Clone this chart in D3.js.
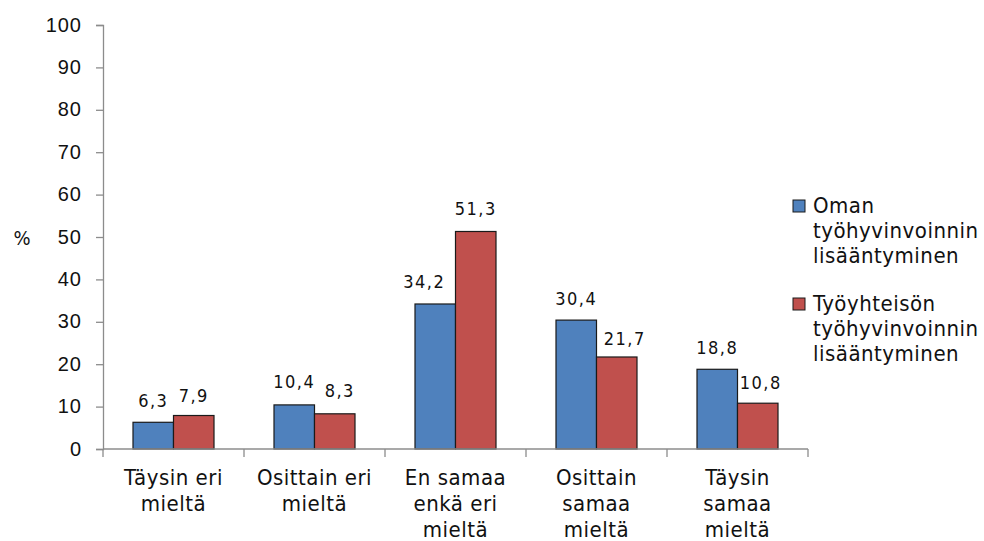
<!DOCTYPE html>
<html>
<head>
<meta charset="utf-8">
<script src="https://cdn.jsdelivr.net/npm/d3@7"></script>
<style>
  html, body { margin: 0; padding: 0; background: #fff; }
  svg { display: block; font-family: "DejaVu Sans Condensed", "DejaVu Sans", sans-serif; font-stretch: condensed; }
</style>
</head>
<body>
<svg id="chart" width="984" height="541"></svg>
<script>
// Survey answers, percent of respondents
const categories = [
  ["Täysin eri", "mieltä"],
  ["Osittain eri", "mieltä"],
  ["En samaa", "enkä eri", "mieltä"],
  ["Osittain", "samaa", "mieltä"],
  ["Täysin", "samaa", "mieltä"]
];
const seriesNames = [
  ["Oman", "työhyvinvoinnin", "lisääntyminen"],
  ["Työyhteisön", "työhyvinvoinnin", "lisääntyminen"]
];
const omanValues = [6.3, 10.4, 34.2, 30.4, 18.8];
const tyoyhteisonValues = [7.9, 8.3, 51.3, 21.7, 10.8];
const yTicks = [0, 10, 20, 30, 40, 50, 60, 70, 80, 90, 100];
const colors = ["#4F81BD", "#C0504D"];

const svg = d3.select("#chart");
const catKeys = categories.map(c => c.join(" "));
const values = [omanValues, tyoyhteisonValues];

// Small nudges that keep neighbouring value labels apart
const labelDx = [[0, 0, -11, 0, 0], [0, 5, 0, 8, 3]];
const labelGap = [[15, 17, 15.5, 15.5, 15.5], [14, 17, 16.5, 11.5, 14]];

const x = d3.scaleBand().domain(catKeys).range([103, 808]).padding(0);
const x1 = d3.scaleBand().domain([0, 1]).range([30, x.bandwidth() - 30]).padding(0);
const y = d3.scaleLinear().domain([0, 100]).range([449, 25]);

const axisColor = "#8c8c8c";
const textColor = "#111";
const fmt = v => d3.format(".1f")(v).replace(".", ",");

// Y axis
const yAxis = svg.append("g")
  .attr("transform", "translate(103,0)")
  .call(d3.axisLeft(y).tickValues(yTicks).tickSize(7).tickPadding(14));
yAxis.select(".domain").attr("stroke", axisColor).attr("stroke-width", 1.3);
yAxis.selectAll(".tick line").attr("stroke", axisColor).attr("stroke-width", 1.3);
yAxis.selectAll(".tick text")
  .attr("font-size", 20).attr("fill", textColor)
  .attr("font-family", null)
  .attr("dy", "0.3em")
  .style("letter-spacing", "1px");

// Y axis title
svg.append("text").attr("x", 22).attr("y", 245)
  .attr("text-anchor", "middle").attr("font-size", 20)
  .attr("fill", textColor).text("%");

// Bars
const groups = svg.append("g").selectAll("g")
  .data(catKeys).join("g")
  .attr("transform", d => `translate(${x(d)},0)`);

groups.each(function(cat, ci) {
  const g = d3.select(this);
  [0, 1].forEach(si => {
    const v = values[si][ci];
    g.append("rect")
      .attr("x", x1(si))
      .attr("y", y(v))
      .attr("width", x1.bandwidth())
      .attr("height", y(0) - y(v))
      .attr("fill", colors[si])
      .attr("stroke", "#1a1a1a")
      .attr("stroke-width", 1.2);
    g.append("text")
      .attr("x", x1(si) + x1.bandwidth() / 2 + labelDx[si][ci])
      .attr("y", y(v) - labelGap[si][ci])
      .attr("text-anchor", "middle")
      .attr("font-size", 18)
      .attr("fill", textColor)
      .style("letter-spacing", "1.5px")
      .text(fmt(v));
  });
});

// X axis (baseline and category separators)
const xAxis = svg.append("g");
xAxis.append("line")
  .attr("x1", 103).attr("x2", 808).attr("y1", y(0)).attr("y2", y(0))
  .attr("stroke", axisColor).attr("stroke-width", 1.3);
const bounds = catKeys.map(k => x(k)).concat([x.range()[1]]);
xAxis.selectAll("line.sep").data(bounds).join("line")
  .attr("class", "sep")
  .attr("x1", d => d).attr("x2", d => d)
  .attr("y1", y(0)).attr("y2", y(0) + 8)
  .attr("stroke", axisColor).attr("stroke-width", 1.3);

// Category labels
const catLabels = svg.append("g").selectAll("text")
  .data(categories).join("text")
  .attr("text-anchor", "middle")
  .attr("font-size", 22)
  .attr("fill", textColor)
  .style("letter-spacing", "0.5px")
  .attr("transform", (d, i) => `translate(${x(catKeys[i]) + x.bandwidth() / 2},485)`);
catLabels.selectAll("tspan").data(d => d).join("tspan")
  .attr("x", 0).attr("y", (d, i) => i * 26)
  .text(d => d);

// Legend
const legend = svg.append("g").attr("transform", "translate(793,0)");
seriesNames.forEach((lines, si) => {
  const top = 200 + si * 98;
  legend.append("rect")
    .attr("x", 0).attr("y", top).attr("width", 12).attr("height", 12)
    .attr("fill", colors[si]).attr("stroke", "#1a1a1a").attr("stroke-width", 1);
  const t = legend.append("text")
    .attr("font-size", 22).attr("fill", textColor)
    .style("letter-spacing", "0.5px");
  t.selectAll("tspan").data(lines).join("tspan")
    .attr("x", 20).attr("y", (d, i) => top + 13 + i * 25)
    .text(d => d);
});
</script>
</body>
</html>
